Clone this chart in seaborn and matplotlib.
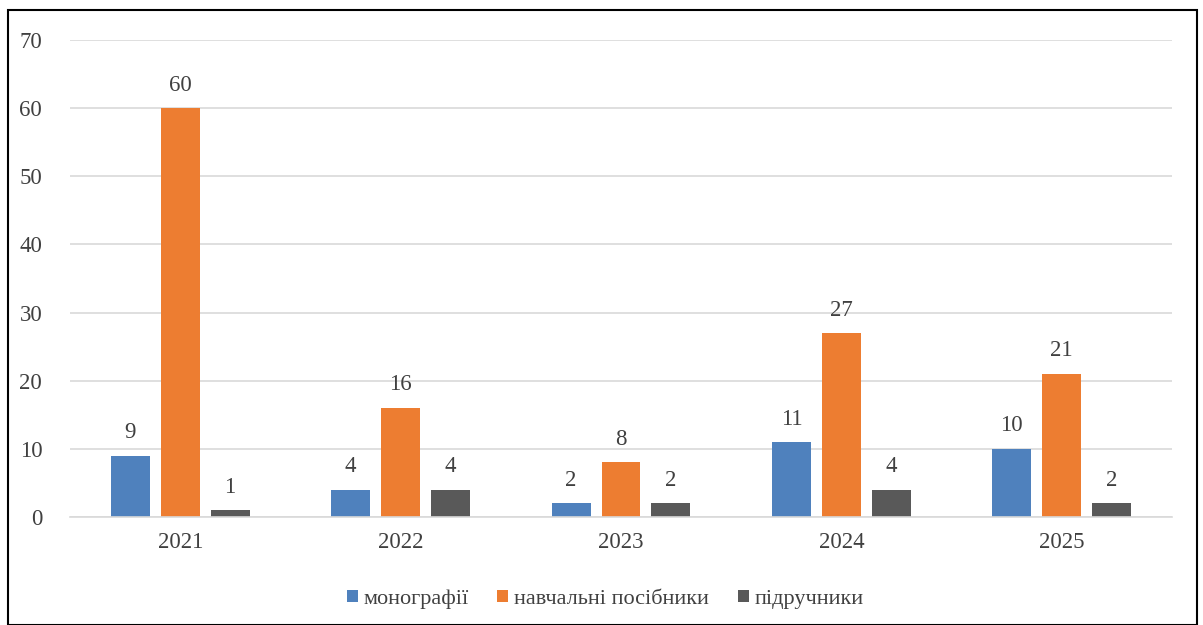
import matplotlib
matplotlib.use("Agg")
import matplotlib.pyplot as plt
import seaborn as sns
import pandas as pd

# Data
years = ["2021", "2022", "2023", "2024", "2025"]
series = ["монографії", "навчальні посібники", "підручники"]
monographs = [9, 4, 2, 11, 10]
manuals = [60, 16, 8, 27, 21]
textbooks = [1, 4, 2, 4, 2]
colors = ["#4F81BD", "#ED7D31", "#595959"]

rows = []
for name, vals in zip(series, [monographs, manuals, textbooks]):
    for y, v in zip(years, vals):
        rows.append({"year": y, "series": name, "value": v})
df = pd.DataFrame(rows)

sns.set_style("white")
plt.rcParams["font.family"] = ["Liberation Serif", "DejaVu Serif"]

fig = plt.figure(figsize=(12.03, 6.25), dpi=100)
ax = fig.add_axes([70 / 1203, 1 - 517 / 625, 1102 / 1203, 477 / 625])

sns.barplot(data=df, x="year", y="value", hue="series", palette=colors,
            width=0.68, gap=0.22, ax=ax, legend=True, saturation=1,
            linewidth=0)

for c in ax.containers:
    ax.bar_label(c, padding=9, fontsize=16.5, color="#404040")

ax.set_ylim(0, 70)
ax.set_xlim(-0.5, 4.5)
ax.set_yticks(range(0, 71, 10))
ax.yaxis.grid(True, color="#D9D9D9", linewidth=1.2)
ax.set_axisbelow(True)
for s in ["top", "right", "left"]:
    ax.spines[s].set_visible(False)
ax.spines["bottom"].set_color("#D9D9D9")
ax.spines["bottom"].set_linewidth(1.2)
ax.tick_params(axis="both", length=0, labelsize=16.5, colors="#404040")
ax.tick_params(axis="x", pad=11)
ax.tick_params(axis="y", pad=20)
ax.set_xlabel("")
ax.set_ylabel("")

ax.legend(loc="center", bbox_to_anchor=(0.4855, -0.172), ncol=3, frameon=False,
          fontsize=16, handlelength=0.5, handleheight=0.5, handletextpad=0.25,
          columnspacing=1.3, labelcolor="#404040")

# Outer border around the chart
fig.patches.append(plt.Rectangle((8 / 1203, 0), 1189 / 1203, 1 - 10 / 625,
                                 transform=fig.transFigure, fill=False,
                                 edgecolor="black", linewidth=1.5))

fig.savefig("out.png", dpi=100)
